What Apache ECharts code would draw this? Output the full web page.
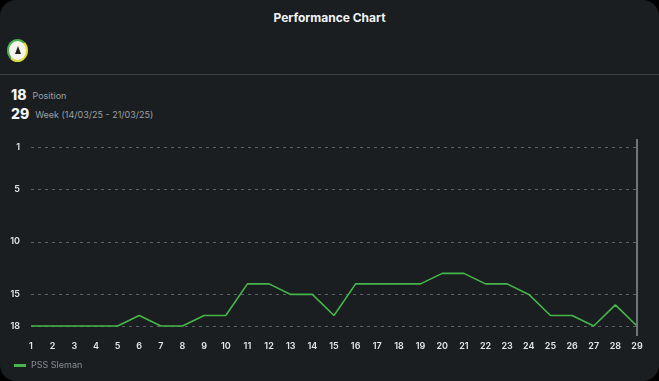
<!DOCTYPE html>
<html><head><meta charset="utf-8">
<script src="https://cdn.jsdelivr.net/npm/echarts@6/dist/echarts.min.js"></script>
<style>
html,body{margin:0;padding:0;background:#000;width:659px;height:381px;overflow:hidden;font-family:Inter,Roboto,sans-serif;}
#card{position:absolute;left:0;top:0;width:659px;height:381px;background:#1a1e21;border-radius:16px;overflow:hidden;}
#chart{position:absolute;left:0;top:0;width:659px;height:381px;}
.title{position:absolute;left:0;width:659px;top:10px;text-align:center;color:#f2f4f5;font-weight:700;font-size:12px;}
.logo{position:absolute;left:7px;top:39px;width:17px;height:19px;border-radius:50%;background:#f4f4ec;border:2px solid #4caf50;border-right-color:#e6dc2a;border-bottom-color:#d8d84a;box-sizing:content-box;}
.logo:after{content:"";position:absolute;left:6px;top:5px;width:0;height:0;border-left:3px solid transparent;border-right:3px solid transparent;border-bottom:8px solid #222;}
.divider{position:absolute;left:0;top:74px;width:659px;height:1px;background:#3a3f43;}
.row{position:absolute;left:11px;color:#9aa0a5;font-size:9px;}
.row b{color:#f2f4f5;font-size:14px;font-weight:800;margin-right:6px;vertical-align:-1px;}
</style></head>
<body>
<div id="card">
<div class="title">Performance Chart</div>
<div class="logo"></div>
<div class="divider"></div>
<div class="row" style="top:86px"><b>18</b>Position</div>
<div class="row" style="top:105px"><b>29</b>Week (14/03/25 - 21/03/25)</div>
<div id="chart"></div>
</div>
<script>
const weeks = ['1','2','3','4','5','6','7','8','9','10','11','12','13','14','15','16','17','18','19','20','21','22','23','24','25','26','27','28','29'];
const positions = [18,18,18,18,18,17,18,18,17,17,14,14,15,15,17,14,14,14,14,13,13,14,14,15,17,17,18,16,18];
const yTicks = [1,5,10,15,18];
const seriesName = 'PSS Sleman';

const chart = echarts.init(document.getElementById('chart'), null, {renderer:'canvas'});
chart.setOption({
  backgroundColor:'transparent',
  animation:false,
  textStyle:{fontFamily:'Inter, Roboto, sans-serif'},
  grid:{left:31,right:22,top:139,height:197,containLabel:false},
  legend:{left:9,top:356,icon:'rect',itemWidth:12,itemHeight:3,itemGap:10,
    textStyle:{color:'#8b9095',fontSize:9},data:[seriesName]},
  xAxis:{type:'category',data:weeks,boundaryGap:false,
    axisLine:{show:false},axisTick:{show:false},
    axisLabel:{color:'#e3e6e8',fontSize:9,fontWeight:600,margin:6,interval:0},
    splitLine:{show:false}},
  yAxis:{type:'value',inverse:true,min:0.24,max:18.95,
    axisLine:{show:false},
    axisTick:{show:false,customValues:yTicks},
    axisLabel:{customValues:yTicks,color:'#e3e6e8',fontSize:9,fontWeight:600,margin:11},
    splitLine:{show:true,lineStyle:{color:'#5b6064',type:[3,4],width:1}}},
  series:[{name:seriesName,type:'line',data:positions,symbol:'none',
    lineStyle:{color:'#45b649',width:1.6},itemStyle:{color:'#45b649'},
    markLine:{silent:true,symbol:'none',label:{show:false},
      lineStyle:{color:'#70757a',width:2,type:'solid'},
      data:[{xAxis:'29'}]}}]
});
</script>
</body></html>
